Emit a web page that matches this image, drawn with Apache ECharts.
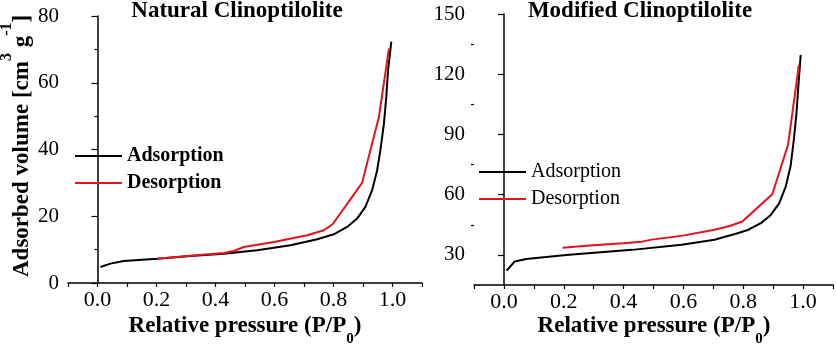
<!DOCTYPE html>
<html>
<head>
<meta charset="utf-8">
<script src="https://cdn.jsdelivr.net/npm/echarts@6/dist/echarts.min.js"></script>
<style>
  html, body { margin: 0; padding: 0; background: #fff; }
  #chart { width: 836px; height: 346px; }
</style>
</head>
<body>
<div id="chart"></div>
<script>
// natural clinoptilolite
var natAdsP = [0.010, 0.044, 0.089, 0.202, 0.315, 0.428, 0.541, 0.654, 0.745, 0.801, 0.846, 0.88, 0.908, 0.931, 0.948, 0.959, 0.971, 0.979, 0.985, 0.996];
var natAdsV = [4.8, 5.8, 6.6, 7.3, 8.1, 8.8, 9.8, 11.3, 13.1, 14.6, 16.8, 19.3, 22.8, 27.8, 33.8, 39.8, 47.8, 55.8, 63.8, 72.3];
var natDesP = [0.202, 0.315, 0.428, 0.462, 0.496, 0.598, 0.711, 0.767, 0.797, 0.897, 0.954, 0.988];
var natDesV = [7.3, 8.2, 9.0, 9.6, 10.8, 12.3, 14.3, 15.8, 17.6, 30.0, 49.8, 70.3];
// modified clinoptilolite
var modAdsP = [0.009, 0.036, 0.075, 0.208, 0.428, 0.594, 0.704, 0.781, 0.815, 0.859, 0.892, 0.92, 0.942, 0.958, 0.969, 0.978, 0.984, 0.992];
var modAdsV = [22.2, 26.7, 28.0, 30.0, 32.5, 35.0, 37.5, 40.8, 42.4, 45.8, 49.9, 55.7, 64.0, 74.0, 87.3, 100.6, 113.8, 129.6];
var modDesP = [0.196, 0.297, 0.398, 0.461, 0.494, 0.598, 0.704, 0.755, 0.797, 0.897, 0.95, 0.986];
var modDesV = [33.6, 34.8, 35.8, 36.6, 37.6, 39.6, 42.5, 44.4, 46.6, 60.2, 85.0, 124.6];

var modYTicks = [30, 60, 90, 120, 150];
var modYMinor = [45, 75, 105, 135];
var seriesNames = ['Adsorption', 'Desorption'];

var FONT = 'Liberation Serif';
var RED = '#e8101a';

function pairs(p, v) {
    var out = [];
    for (var i = 0; i < p.length; i++) out.push([p[i], v[i]]);
    return out;
}

// x labels only at 0.0, 0.2 ... 1.0
function xLabel(v) {
    var k = Math.round(v * 10);
    return (k >= 0 && k <= 10 && k % 2 === 0) ? (k / 10).toFixed(1) : '';
}

function xAxisOf(grid) {
    return {
        type: 'value', gridIndex: grid, min: -0.1, max: 1.1, interval: 0.1,
        axisLine: { show: true, lineStyle: { color: '#000', width: 1.5 } },
        axisTick: { show: true, inside: false, length: 4, lineStyle: { color: '#000', width: 1.2 } },
        axisLabel: { formatter: xLabel, margin: 6, color: '#000', fontFamily: FONT, fontSize: 22 },
        splitLine: { show: false }
    };
}

function xTitle(x) {
    return {
        type: 'text', x: x, y: 315,
        style: {
            text: '{b|Relative pressure (P/P}{u|0}{b|)}',
            fill: '#000', align: 'center', verticalAlign: 'top', textAlign: 'center', textVerticalAlign: 'top',
            rich: {
                b: { fontFamily: FONT, fontSize: 23, fontWeight: 'bold', lineHeight: 23, verticalAlign: 'top', color: '#000' },
                u: { fontFamily: FONT, fontSize: 15, fontWeight: 'bold', lineHeight: 32, verticalAlign: 'bottom', color: '#000' }
            }
        }
    };
}

function title(x, txt) {
    return {
        type: 'text', x: x, y: 11,
        style: { text: txt, font: 'bold 23px "Liberation Serif"', fill: '#000', align: 'center', verticalAlign: 'middle', textAlign: 'center', textVerticalAlign: 'middle' }
    };
}

var myChart = echarts.init(document.getElementById('chart'));
var option = {
    backgroundColor: '#fff',
    animation: false,
    grid: [
        { left: 68, top: 16, width: 354, height: 267 },
        { left: 474, top: 14, width: 362, height: 271 }
    ],
    xAxis: [xAxisOf(0), xAxisOf(1)],
    yAxis: [{
        type: 'value', gridIndex: 0, min: 0, max: 80, interval: 20,
        axisLine: { show: true, lineStyle: { color: '#000', width: 1.5 } },
        axisTick: { show: true, length: 6, lineStyle: { color: '#000', width: 1.2 } },
        minorTick: { show: true, splitNumber: 2, length: 3, lineStyle: { color: '#000', width: 1.2 } },
        axisLabel: { margin: 9, color: '#000', fontFamily: FONT, fontSize: 21 },
        splitLine: { show: false }
    }, {
        type: 'value', gridIndex: 1, min: 15, max: 150,
        axisLine: { show: true, lineStyle: { color: '#000', width: 1.5 } },
        axisTick: { show: true, length: 6, customValues: modYTicks, lineStyle: { color: '#000', width: 1.2 } },
        axisLabel: { margin: 9, customValues: modYTicks, color: '#000', fontFamily: FONT, fontSize: 21 },
        splitLine: { show: false }
    }, {
        // minor ticks only
        type: 'value', gridIndex: 1, min: 15, max: 150, position: 'left',
        axisLine: { show: false },
        axisTick: { show: true, length: 3, customValues: modYMinor, lineStyle: { color: '#000', width: 1.2 } },
        axisLabel: { show: false },
        splitLine: { show: false }
    }],
    legend: [{
        orient: 'vertical', left: 75, top: 146, padding: 0, itemGap: 7,
        icon: 'rect', itemWidth: 47, itemHeight: 2,
        textStyle: { color: '#000', fontFamily: FONT, fontSize: 20, fontWeight: 'bold' },
        data: seriesNames
    }, {
        orient: 'vertical', left: 479, top: 162, padding: 0, itemGap: 7,
        icon: 'rect', itemWidth: 47, itemHeight: 2,
        textStyle: { color: '#000', fontFamily: FONT, fontSize: 20 },
        data: seriesNames
    }],
    graphic: [
        title(237, 'Natural Clinoptilolite'),
        title(640, 'Modified Clinoptilolite'),
        {
            type: 'text', x: 22, y: 277, rotation: Math.PI / 2,
            style: {
                text: '{n|Adsorbed volume [cm}{s|3}{n| g}{s|-1}{n|]}',
                fill: '#000', align: 'left', verticalAlign: 'middle', textAlign: 'left', textVerticalAlign: 'middle',
                rich: {
                    n: { fontFamily: FONT, fontSize: 23, fontWeight: 'bold', lineHeight: 46, verticalAlign: 'middle', color: '#000' },
                    s: { fontFamily: FONT, fontSize: 16, fontWeight: 'bold', lineHeight: 16, verticalAlign: 'top', color: '#000' }
                }
            }
        },
        xTitle(245),
        xTitle(654)
    ],
    series: [{
        name: 'Adsorption', type: 'line', xAxisIndex: 0, yAxisIndex: 0,
        data: pairs(natAdsP, natAdsV), showSymbol: false,
        color: '#000', lineStyle: { color: '#000', width: 2 }
    }, {
        name: 'Desorption', type: 'line', xAxisIndex: 0, yAxisIndex: 0,
        data: pairs(natDesP, natDesV), showSymbol: false,
        color: RED, lineStyle: { color: RED, width: 2 }
    }, {
        name: 'Adsorption', type: 'line', xAxisIndex: 1, yAxisIndex: 1,
        data: pairs(modAdsP, modAdsV), showSymbol: false,
        color: '#000', lineStyle: { color: '#000', width: 2 }
    }, {
        name: 'Desorption', type: 'line', xAxisIndex: 1, yAxisIndex: 1,
        data: pairs(modDesP, modDesV), showSymbol: false,
        color: RED, lineStyle: { color: RED, width: 2 }
    }]
};
myChart.setOption(option);
</script>
</body>
</html>
